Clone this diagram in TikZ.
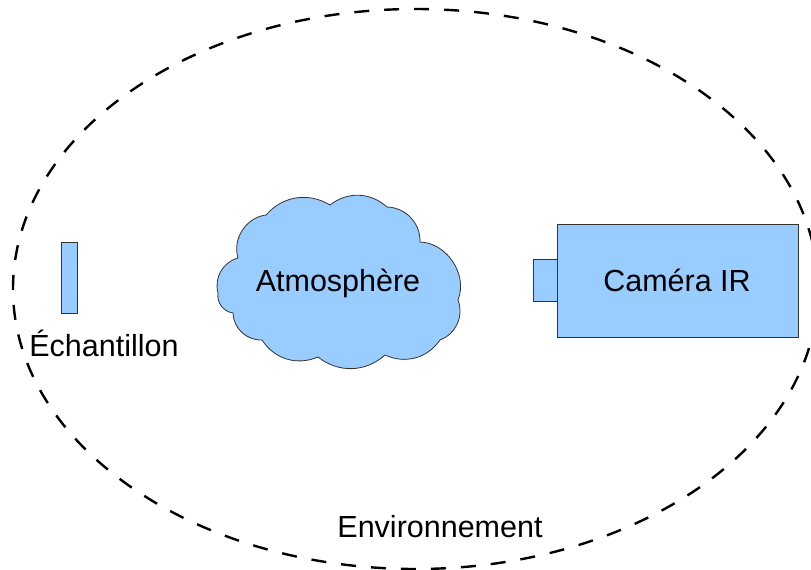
\documentclass[tikz,border=0pt]{standalone}
\usepackage{fontspec}
\setmainfont{Liberation Sans}
\definecolor{boxblue}{HTML}{99CCFF}
\definecolor{edge}{HTML}{333333}
\begin{document}
\begin{tikzpicture}[x=1pt,y=-1pt,
  part/.style={draw=edge,fill=boxblue,line width=0.8pt},
  lbl/.style={font=\fontsize{30.5}{34}\selectfont,inner sep=0pt}]
\useasboundingbox (0,0) rectangle (811,570);
\draw[line width=2.4pt,dash pattern=on 15pt off 15pt] (415.5,289) ellipse [x radius=402.5,y radius=280];
% sample
\node[part,minimum width=16pt,minimum height=71pt,inner sep=0pt] (sample) at (69,277.5) {};
\node[lbl] (samplelbl) at (104,343) {Échantillon};
% cloud
\draw[part] (218,293) to[bend left=45] (238,258) to[bend left=50] (266,215)
  to[bend left=40] (330,205) to[bend left=40] (387,207) to[bend left=45] (420,242)
  to[bend left=55] (458,300) to[bend left=45] (440,340) to[bend left=40] (385,355)
  to[bend left=40] (318,357) to[bend left=40] (262,340) to[bend left=45] (233,313)
  to[bend left=45] (218,293) -- cycle;
\node[lbl] (atmo) at (338,283) {Atmosphère};
% camera
\node[part,minimum width=24pt,minimum height=42pt,inner sep=0pt] (lens) at (545,280) {};
\node[part,minimum width=241pt,minimum height=113pt,inner sep=0pt] (cam) at (677.5,280.5) {};
\node[lbl] (camlbl) at (677,280) {Caméra IR};
\node[lbl] (env) at (440,527) {Environnement};
\end{tikzpicture}
\end{document}
